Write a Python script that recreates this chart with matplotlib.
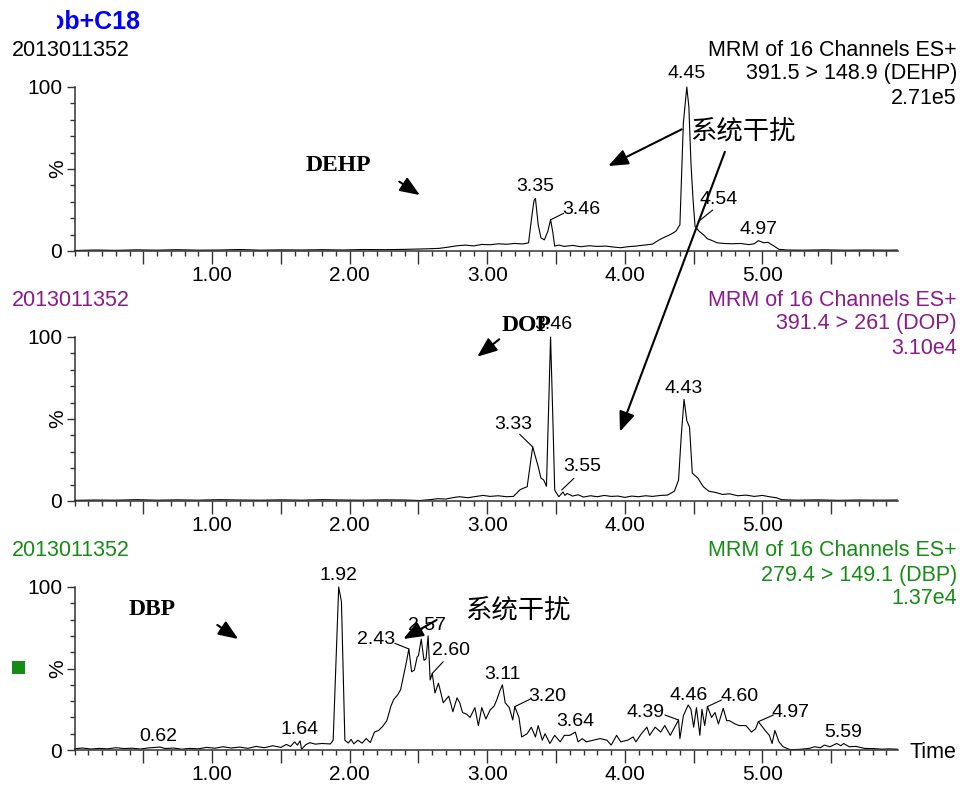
import matplotlib
matplotlib.use("Agg")
import matplotlib.pyplot as plt
import numpy as np
from matplotlib.patches import Rectangle
from matplotlib.ticker import FixedLocator, FuncFormatter, MultipleLocator
from matplotlib.transforms import offset_copy

plt.rcParams["font.family"] = ["Liberation Sans", "DejaVu Sans"]

W, H = 967, 785
X_MAX = 5.985

# (retention time / min, relative intensity / %) along each MRM channel
dehp_trace = [
    (0.00, 0.3), (0.15, 0.6), (0.30, 0.4), (0.45, 0.7), (0.60, 0.5), (0.75, 0.8),
    (0.90, 0.5), (1.05, 0.6), (1.20, 0.9), (1.35, 0.5), (1.50, 0.7), (1.65, 0.6),
    (1.80, 0.8), (1.95, 0.6), (2.10, 0.9), (2.25, 0.8), (2.40, 1.0), (2.55, 1.3),
    (2.65, 1.6), (2.72, 2.4), (2.78, 3.2), (2.84, 3.6), (2.90, 3.1), (2.96, 4.0),
    (3.02, 3.8), (3.08, 4.4), (3.14, 4.1), (3.20, 4.6), (3.26, 4.3), (3.30, 5.0),
    (3.325, 22.0), (3.34, 31.0), (3.35, 32.0), (3.37, 16.0), (3.39, 8.0), (3.415, 6.8),
    (3.44, 12.0), (3.46, 19.0), (3.475, 12.0), (3.49, 3.0), (3.52, 3.6), (3.56, 2.8),
    (3.62, 3.4), (3.68, 2.6), (3.74, 3.2), (3.80, 2.8), (3.86, 3.0), (3.92, 2.4),
    (3.97, 2.0), (4.02, 2.6), (4.08, 3.0), (4.14, 3.6), (4.20, 4.2), (4.25, 6.8),
    (4.29, 8.5), (4.33, 10.0), (4.37, 12.0), (4.40, 16.0), (4.425, 78.0), (4.45, 100.0),
    (4.465, 88.0), (4.48, 54.0), (4.495, 32.0), (4.51, 15.0), (4.54, 12.0), (4.57, 10.0),
    (4.60, 7.5), (4.63, 6.5), (4.67, 5.0), (4.72, 4.6), (4.78, 4.4), (4.84, 4.6),
    (4.90, 3.9), (4.94, 4.4), (4.97, 6.3), (5.01, 5.0), (5.04, 5.3), (5.08, 3.2),
    (5.12, 1.0), (5.18, 0.6), (5.30, 0.5), (5.45, 0.7), (5.60, 0.5), (5.75, 0.6),
    (5.90, 0.5), (5.98, 0.6),
]

dop_trace = [
    (0.00, 0.4), (0.15, 0.6), (0.30, 0.5), (0.45, 0.8), (0.60, 0.5), (0.75, 0.7),
    (0.90, 0.5), (1.05, 0.8), (1.20, 0.6), (1.35, 0.5), (1.50, 0.7), (1.65, 0.5),
    (1.80, 0.8), (1.95, 0.6), (2.10, 0.5), (2.25, 0.7), (2.40, 0.6), (2.51, 0.3),
    (2.58, 0.8), (2.64, 1.4), (2.70, 1.2), (2.76, 2.2), (2.80, 2.6), (2.86, 2.0),
    (2.92, 2.8), (2.97, 3.4), (3.02, 2.8), (3.08, 3.2), (3.14, 2.6), (3.19, 2.8),
    (3.24, 7.0), (3.29, 8.7), (3.31, 21.0), (3.33, 33.0), (3.35, 27.0), (3.37, 21.0),
    (3.39, 14.0), (3.41, 12.8), (3.43, 9.0), (3.46, 100.0), (3.475, 55.0), (3.49, 6.7),
    (3.50, 5.2), (3.52, 2.6), (3.55, 5.5), (3.565, 3.4), (3.58, 4.6), (3.62, 3.0),
    (3.66, 3.8), (3.70, 2.4), (3.75, 3.2), (3.80, 2.6), (3.85, 3.4), (3.90, 2.8),
    (3.95, 3.0), (4.00, 2.2), (4.05, 3.0), (4.10, 2.6), (4.15, 3.2), (4.20, 2.8),
    (4.26, 3.4), (4.31, 3.6), (4.36, 6.0), (4.39, 12.8), (4.41, 40.0), (4.43, 62.0),
    (4.45, 49.0), (4.47, 45.0), (4.49, 17.0), (4.53, 14.0), (4.57, 8.7), (4.61, 6.0),
    (4.66, 5.2), (4.71, 4.0), (4.76, 4.4), (4.82, 3.2), (4.88, 3.6), (4.94, 2.8),
    (5.00, 3.4), (5.05, 2.6), (5.10, 2.0), (5.14, 0.8), (5.25, 0.5), (5.40, 0.7),
    (5.55, 0.4), (5.70, 0.6), (5.85, 0.5), (5.98, 0.6),
]

dbp_trace = [
    (0.00, 0.8), (0.06, 1.2), (0.12, 0.6), (0.18, 1.0), (0.24, 0.7), (0.30, 1.4),
    (0.36, 0.9), (0.42, 1.1), (0.48, 0.6), (0.54, 1.3), (0.62, 1.8), (0.66, 0.9),
    (0.72, 1.2), (0.78, 0.5), (0.84, 1.0), (0.90, 0.7), (0.96, 1.6), (1.02, 1.1),
    (1.08, 2.0), (1.14, 1.2), (1.20, 1.8), (1.26, 1.0), (1.32, 2.2), (1.38, 1.4),
    (1.44, 2.6), (1.50, 1.6), (1.54, 3.4), (1.57, 2.2), (1.60, 5.0), (1.62, 3.0),
    (1.64, 5.6), (1.65, 0.4), (1.68, 3.2), (1.71, 4.5), (1.75, 3.6), (1.80, 4.0),
    (1.86, 3.7), (1.88, 6.0), (1.92, 100.0), (1.94, 91.0), (1.965, 6.0), (1.99, 4.3),
    (2.01, 6.5), (2.03, 3.8), (2.06, 6.0), (2.09, 4.2), (2.12, 7.0), (2.15, 4.6),
    (2.18, 11.0), (2.21, 12.0), (2.24, 14.5), (2.27, 18.0), (2.30, 27.0), (2.32, 31.0),
    (2.35, 34.0), (2.37, 37.0), (2.39, 45.0), (2.41, 53.0), (2.43, 62.0), (2.45, 48.0),
    (2.47, 49.0), (2.49, 57.0), (2.50, 58.0), (2.52, 68.0), (2.54, 55.0), (2.555, 56.0),
    (2.57, 70.0), (2.585, 43.0), (2.60, 47.0), (2.62, 35.0), (2.645, 41.0), (2.66, 36.0),
    (2.68, 29.0), (2.70, 31.0), (2.72, 33.0), (2.75, 23.5), (2.78, 32.0), (2.80, 29.0),
    (2.82, 23.0), (2.85, 22.0), (2.875, 20.0), (2.91, 26.0), (2.935, 15.0), (2.96, 26.0),
    (2.99, 19.0), (3.02, 24.5), (3.05, 27.0), (3.07, 31.0), (3.09, 36.0), (3.11, 40.0),
    (3.13, 29.0), (3.16, 26.0), (3.185, 18.4), (3.20, 26.6), (3.23, 20.0), (3.25, 8.0),
    (3.29, 10.0), (3.32, 14.0), (3.35, 8.0), (3.37, 15.0), (3.40, 6.0), (3.42, 10.0),
    (3.455, 4.0), (3.49, 9.0), (3.53, 5.0), (3.56, 9.0), (3.60, 9.0), (3.62, 10.0),
    (3.64, 11.0), (3.66, 5.0), (3.69, 7.0), (3.72, 5.0), (3.77, 6.0), (3.82, 7.0),
    (3.87, 6.0), (3.90, 3.0), (3.94, 9.0), (3.97, 5.0), (4.02, 6.0), (4.06, 8.0),
    (4.08, 5.0), (4.12, 10.0), (4.16, 14.0), (4.18, 9.0), (4.22, 14.0), (4.26, 11.0),
    (4.29, 15.0), (4.33, 9.0), (4.39, 18.4), (4.40, 7.0), (4.425, 21.0), (4.46, 27.6),
    (4.48, 25.0), (4.50, 14.0), (4.52, 26.0), (4.545, 9.0), (4.56, 25.0), (4.58, 15.0),
    (4.60, 26.6), (4.63, 20.0), (4.655, 23.0), (4.68, 16.0), (4.715, 25.6), (4.74, 18.0),
    (4.76, 18.0), (4.80, 16.0), (4.83, 15.0), (4.88, 15.0), (4.92, 11.0), (4.95, 13.0),
    (4.97, 17.4), (5.02, 12.0), (5.05, 9.0), (5.07, 4.0), (5.09, 12.0), (5.12, 5.0),
    (5.15, 2.0), (5.20, 0.2), (5.27, 0.4), (5.34, 1.0), (5.38, 2.0), (5.42, 1.4),
    (5.45, 3.0), (5.49, 2.0), (5.54, 4.0), (5.57, 2.6), (5.59, 4.0), (5.63, 2.0),
    (5.68, 2.2), (5.74, 1.0), (5.82, 0.8), (5.87, 0.5), (5.92, 0.7), (5.98, 0.5),
]

# peak labels: text, text offset from apex (px), optional leader (start, end) offsets
dehp_labels = [
    ("4.45", (0, 14), None),
    ("3.35", (0, 12), None),
    ("3.46", (31, 10.5), ((0, 0), (13, 6.5))),
    ("4.54", (19, 32), ((-1, 9.6), (13.5, 21.3))),
    ("4.97", (0, 11.5), None),
]
dop_labels = [
    ("3.46", (3, 12), None),
    ("3.33", (-19, 22.6), ((0, 0), (-13, 12.6))),
    ("3.55", (19, 25), ((-1.3, 2), (11, 13.7))),
    ("4.43", (0, 11), None),
]
dbp_labels = [
    ("0.62", (-2, 10.3), None),
    ("1.64", (-1, 11), None),
    ("1.92", (0, 12), None),
    ("2.43", (-33, 9.6), ((0, 0), (-14, 5.6))),
    ("2.57", (-1.4, 10), None),
    ("2.60", (18.4, 22.4), ((0, 0), (11, 11.7))),
    ("3.11", (0, 10), None),
    ("3.20", (32, 10), ((0, 0), (15, 7.3))),
    ("3.64", (0, 10.4), None),
    ("4.39", (-32.6, 7.3), ((0, 0), (-13.6, 5))),
    ("4.46", (0, 10), None),
    ("4.60", (32, 10.6), ((0, 0), (14, 6.6))),
    ("4.97", (32, 9), ((0, 0), (15, 6.6))),
    ("5.59", (0, 10.8), None),
]

sample_id = "2013011352"
channels = [
    ("391.5 > 148.9 (DEHP)", "2.71e5", "black"),
    ("391.4 > 261 (DOP)", "3.10e4", "#8b1a8b"),
    ("279.4 > 149.1 (DBP)", "1.37e4", "#168c16"),
]

fig = plt.figure(figsize=(W / 100, H / 100), dpi=100)


def fx(px):
    return px / W


def fy(py):
    return 1 - py / H


ax_w = (898 - 74.5) / W
ax1 = fig.add_axes([fx(74.5), fy(251), ax_w, 164 / H])
ax2 = fig.add_axes([fx(74.5), fy(501), ax_w, 164 / H])
ax3 = fig.add_axes([fx(74.5), fy(750), ax_w, 163 / H])


def style_axis(ax):
    ax.set_xlim(0, X_MAX)
    ax.set_ylim(0, 100)
    ax.patch.set_visible(False)
    for side in ("top", "right"):
        ax.spines[side].set_visible(False)
    for side in ("left", "bottom"):
        ax.spines[side].set_linewidth(1.1)
        ax.spines[side].set_color("#333333")
    ax.xaxis.set_major_locator(FixedLocator(np.arange(0.5, 5.51, 0.5)))
    ax.xaxis.set_major_formatter(
        FuncFormatter(lambda v, p: f"{v:.2f}" if abs(v - round(v)) < 1e-6 else ""))
    ax.xaxis.set_minor_locator(MultipleLocator(0.1))
    ax.yaxis.set_major_locator(FixedLocator([0, 50, 100]))
    ax.yaxis.set_major_formatter(FuncFormatter(lambda v, p: "" if v == 50 else f"{v:.0f}"))
    ax.yaxis.set_minor_locator(MultipleLocator(10))
    ax.tick_params(axis="x", which="major", length=9.4, width=1, pad=1.5,
                   labelsize=15, color="#333333")
    ax.tick_params(axis="x", which="minor", length=3.6, width=1, color="#333333")
    ax.tick_params(axis="y", which="major", length=5.8, width=1, pad=3,
                   labelsize=15, color="#333333")
    ax.tick_params(axis="y", which="minor", length=3.6, width=1, color="#333333")
    ax.annotate("%", xy=(0, 50), xycoords=("axes fraction", "data"),
                xytext=(-17, 0), textcoords="offset pixels",
                rotation=90, ha="center", va="center", fontsize=15)


def draw_trace(ax, trace, labels):
    t, y = np.array(trace).T
    ax.plot(t, y, color="black", lw=0.8, clip_on=False)
    for text, (dx, dy), leader in labels:
        i = np.argmin(np.abs(t - float(text)))
        apex = (t[i], y[i])
        ax.annotate(text, xy=apex, xytext=(dx, dy), textcoords="offset pixels",
                    ha="center", va="center", fontsize=14)
        if leader is not None:
            (sx, sy), (ex, ey) = leader
            start = offset_copy(ax.transData, fig=fig, x=sx, y=sy, units="dots")
            ax.annotate("", xy=apex, xycoords=start, xytext=(ex - sx, ey - sy),
                        textcoords="offset pixels",
                        arrowprops=dict(arrowstyle="-", lw=0.8, color="black",
                                        shrinkA=0, shrinkB=0))


arrow_kw = dict(arrowstyle="-|>,head_length=0.8,head_width=0.32", mutation_scale=15,
                lw=1.5, color="black", shrinkA=0, shrinkB=0)

for ax, trace, labels in [(ax1, dehp_trace, dehp_labels),
                          (ax2, dop_trace, dop_labels),
                          (ax3, dbp_trace, dbp_labels)]:
    style_axis(ax)
    draw_trace(ax, trace, labels)

serif_bold = dict(family="Liberation Serif", weight="bold", fontsize=17,
                  ha="center", va="center")
cjk = dict(family=["Noto Sans CJK SC", "DejaVu Sans"], fontsize=19, weight="medium",
           ha="center", va="center")

# compound tags and interference notes
ax1.text(1.915, 52.4, "DEHP", **serif_bold)
ax1.annotate("", xy=(2.51, 34.1), xytext=(2.36, 42.3), arrowprops=arrow_kw)
ax1.text(4.858, 73.2, "系统干扰", **cjk)
ax1.annotate("", xy=(3.879, 51.8), xytext=(4.413, 74.2), arrowprops=arrow_kw)
ax2.annotate("", xy=(3.964, 42.3), xycoords=ax2.transData,
             xytext=(4.727, 60.5), textcoords=ax1.transData,
             arrowprops=arrow_kw, annotation_clip=False)

ax2.text(3.286, 107.3, "DOP", **serif_bold)
ax2.annotate("", xy=(2.927, 88.0), xytext=(3.087, 98.6), arrowprops=arrow_kw)

ax3.text(0.561, 85.9, "DBP", **serif_bold)
ax3.annotate("", xy=(1.190, 68.1), xytext=(1.038, 76.7), arrowprops=arrow_kw)
ax3.text(3.223, 85.9, "系统干扰", **cjk)
ax3.annotate("", xy=(2.390, 68.1), xytext=(2.632, 79.8), arrowprops=arrow_kw)

# header block of each channel
for (transition, scale, color), top in zip(channels, [50, 300, 551]):
    fig.text(fx(12), fy(top), sample_id, va="center", fontsize=15.5, color=color)
    for k, line in enumerate(["MRM of 16 Channels ES+", transition, scale]):
        fig.text(fx(957), fy(top + 24 * k), line, ha="right", va="center",
                 fontsize=15.5, color=color)

fig.text(fx(140), fy(22), "ob+C18", ha="right", va="center", fontsize=18,
         weight="bold", color="#0000ff")
fig.patches.append(Rectangle((0, fy(40)), fx(57), 40 / H, transform=fig.transFigure,
                             facecolor="white", edgecolor="none", zorder=10))
fig.patches.append(Rectangle((fx(12), fy(674)), 13 / W, 13 / H, transform=fig.transFigure,
                             facecolor="#168c16", edgecolor="none"))
fig.text(fx(910), fy(752), "Time", va="center", fontsize=15.5)

fig.savefig("out.png", dpi=100)
